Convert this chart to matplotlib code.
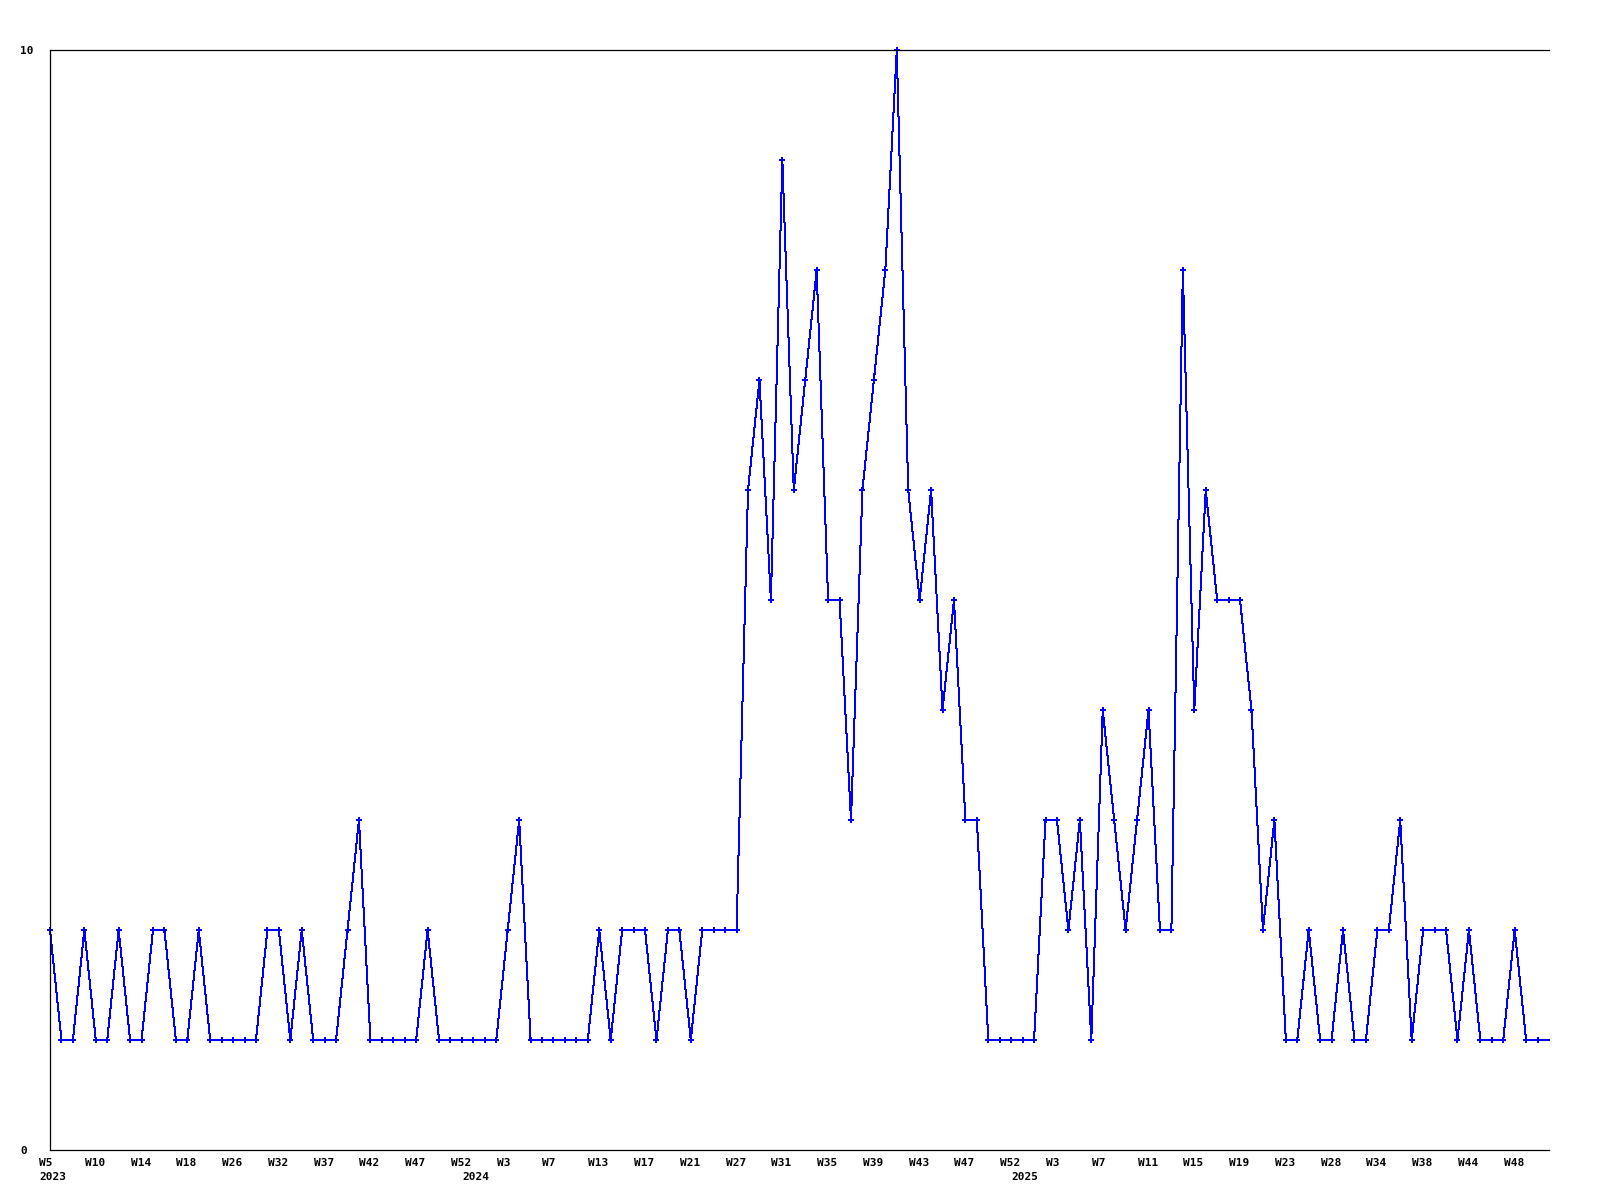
import matplotlib
matplotlib.use('Agg')
import matplotlib.pyplot as plt
from matplotlib.transforms import ScaledTranslation

# weekly counts, one value per week that has data
counts = [2, 1, 1, 2, 1, 1, 2, 1, 1, 2,
          2, 1, 1, 2, 1, 1, 1, 1, 1, 2,
          2, 1, 2, 1, 1, 1, 2, 3, 1, 1,
          1, 1, 1, 2, 1, 1, 1, 1, 1, 1,
          2, 3, 1, 1, 1, 1, 1, 1, 2, 1,
          2, 2, 2, 1, 2, 2, 1, 2, 2, 2,
          2, 6, 7, 5, 9, 6, 7, 8, 5, 5,
          3, 6, 7, 8, 10, 6, 5, 6, 4, 5,
          3, 3, 1, 1, 1, 1, 1, 3, 3, 2,
          3, 1, 4, 3, 2, 3, 4, 2, 2, 8,
          4, 6, 5, 5, 5, 4, 2, 3, 1, 1,
          2, 1, 1, 2, 1, 1, 2, 2, 3, 1,
          2, 2, 2, 1, 2, 1, 1, 1, 2, 1,
          1, 1]

# every 4th week gets a label
week_labels = ['W5', 'W10', 'W14', 'W18', 'W26', 'W32', 'W37', 'W42', 'W47', 'W52', 'W3',
               'W7', 'W13', 'W17', 'W21', 'W27', 'W31', 'W35', 'W39', 'W43', 'W47', 'W52',
               'W3', 'W7', 'W11', 'W15', 'W19', 'W23', 'W28', 'W34', 'W38', 'W44', 'W48']
label_step = 4

years = ['2023', '2024', '2025']
year_index = [0, 37, 85]

y_ticks = [0, 10]


def main():
    fig = plt.figure(figsize=(16, 12), dpi=100)
    ax = fig.add_axes([50 / 1600, 50 / 1200, 1499 / 1600, 1100 / 1200])

    x = list(range(len(counts)))
    ax.plot(x, counts, color='#0000ff', linewidth=0.72, antialiased=False,
            marker='P', markersize=4.5, markeredgewidth=0, markevery=slice(0, len(counts) - 1),
            clip_on=False)

    ax.set_xlim(0, len(counts) - 1)
    ax.set_ylim(0, 10)

    for side in ['left', 'top', 'bottom']:
        ax.spines[side].set_linewidth(0.9)
        ax.spines[side].set_color('black')
    ax.spines['right'].set_visible(False)

    font = dict(family='DejaVu Sans Mono', weight='bold', size=8)

    # week labels start ~11px left of their point
    ax.set_xticks(x[::label_step])
    ax.set_xticklabels([])
    ax.tick_params(axis='x', length=0)
    week_shift = ScaledTranslation(-11 / 100, -8 / 100, fig.dpi_scale_trans)
    for lbl, i in zip(week_labels, x[::label_step]):
        ax.text(i, 0, lbl, transform=ax.get_xaxis_transform() + week_shift,
                ha='left', va='top', **font)

    ax.set_yticks(y_ticks)
    ax.set_yticklabels([str(v) for v in y_ticks], ha='left', **font)
    ax.tick_params(axis='y', length=0, pad=21.6)

    year_shift = ScaledTranslation(-11 / 100, -22 / 100, fig.dpi_scale_trans)
    for yr, i in zip(years, year_index):
        ax.text(i, 0, yr, transform=ax.get_xaxis_transform() + year_shift,
                ha='left', va='top', **font)

    fig.savefig('out.png', dpi=100)


if __name__ == '__main__':
    main()
